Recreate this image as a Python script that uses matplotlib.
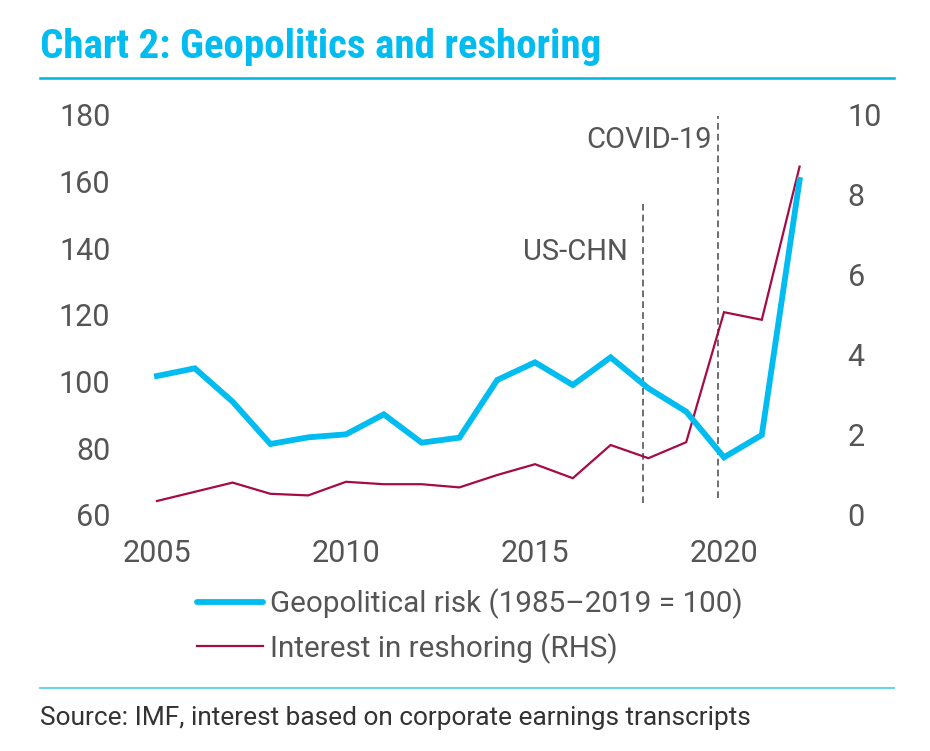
import matplotlib
matplotlib.use("Agg")
import matplotlib.pyplot as plt
from matplotlib.lines import Line2D

# ---- data ----
years = list(range(2005, 2023))
geo_risk = [101.7, 104.0, 94.0, 81.3, 83.3, 84.2, 90.2, 81.7, 83.2, 100.5,
            105.8, 99.0, 107.3, 98.0, 91.0, 77.3, 84.0, 160.5]
reshoring = [0.35, 0.58, 0.81, 0.53, 0.49, 0.83, 0.77, 0.77, 0.69, 1.00,
             1.27, 0.92, 1.75, 1.42, 1.82, 5.07, 4.88, 8.71]
event_labels = ["US-CHN", "COVID-19"]
event_years = [2017.86, 2019.84]
x_ticks = [2005, 2010, 2015, 2020]
left_ticks = [60, 80, 100, 120, 140, 160, 180]
right_ticks = [0, 2, 4, 6, 8, 10]
title = "Chart 2: Geopolitics and reshoring"
legend_labels = ["Geopolitical risk (1985\u20132019 = 100)", "Interest in reshoring (RHS)"]
source = "Source: IMF, interest based on corporate earnings transcripts"

# ---- style ----
BLUE = "#00BCF0"
RED = "#A50B45"
TXT = "#555555"
plt.rcParams["font.family"] = ["Roboto", "DejaVu Sans"]

W, H = 930, 751
fig = plt.figure(figsize=(W / 100, H / 100), dpi=100)

def fx(px):
    return px / W

def fy(py):
    return 1 - py / H

# axes: x data 2004.5..2022.5 -> px 138..818.5 ; y px 515 (bottom) .. 115 (top)
ax = fig.add_axes([fx(138.1), fy(515), fx(818.5) - fx(138.1), fy(115) - fy(515)])
ax2 = ax.twinx()

ax.set_xlim(2004.5, 2022.5)
ax.set_ylim(60, 180)
ax2.set_ylim(0, 10)

ax2.plot(years, reshoring, color=RED, lw=1.6, solid_joinstyle="miter", zorder=2)
ax.plot(years, geo_risk, color=BLUE, lw=4.2, solid_joinstyle="miter", zorder=3)
ax.set_zorder(ax2.get_zorder() + 1)
ax.patch.set_visible(False)

# event lines
line_ext = [(0.30, 7.78), (0.42, 9.98)]
text_pos = [(2017.46, 6.58), (2019.68, 9.38)]
for lab, ex, (y0, y1), (tx, ty) in zip(event_labels, event_years, line_ext, text_pos):
    ax2.plot([ex, ex], [y0, y1], color="#555555", lw=1.2, ls=(0, (4, 2.5)), zorder=1)
    ax2.text(tx, ty, lab, ha="right", va="center", fontsize=21, color=TXT)

for a in (ax, ax2):
    for s in a.spines.values():
        s.set_visible(False)
    a.tick_params(length=0, labelsize=22, labelcolor=TXT)

ax.set_xticks(x_ticks)
ax.set_xticklabels([str(t) for t in x_ticks])
ax.set_yticks(left_ticks)
ax.set_yticklabels([str(t) for t in left_ticks])
ax2.set_yticks(right_ticks)
ax2.set_yticklabels([str(t) for t in right_ticks])
ax.tick_params(axis="y", pad=20)
ax2.tick_params(axis="y", pad=21)
ax.tick_params(axis="x", pad=17)

# title + rules
fig.text(fx(40), fy(47), title, ha="left", va="center", fontsize=29.5,
         fontweight="bold", color=BLUE,
         family=["Liberation Sans Narrow", "Roboto Condensed", "Roboto", "DejaVu Sans"])
fig.add_artist(Line2D([fx(40), fx(894)], [fy(78), fy(78)], color="#00B4DC", lw=1.8))
fig.add_artist(Line2D([fx(40), fx(894)], [fy(688), fy(688)], color="#6FD3EE", lw=1.5))

# legend
handles = [Line2D([], [], color=BLUE, lw=4.2, solid_capstyle="round"),
           Line2D([], [], color=RED, lw=1.6)]
leg = fig.legend(handles, legend_labels, loc="center left",
                 bbox_to_anchor=(fx(197), fy(626)), frameon=False,
                 fontsize=21.3, handlelength=2.23, handletextpad=0.24,
                 labelspacing=0.47, labelcolor=TXT, borderpad=0, borderaxespad=0)

fig.text(fx(40), fy(718), source, ha="left", va="center", fontsize=18.9, color="#333333")

fig.savefig("out.png", dpi=100)
